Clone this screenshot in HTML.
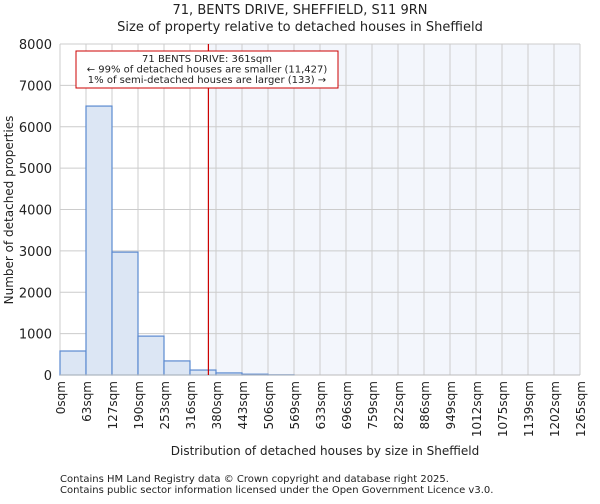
<!DOCTYPE html>
<html><head><meta charset="utf-8"><style>
body{margin:0;background:#fff;font-family:"DejaVu Sans","Liberation Sans",sans-serif;}
svg text{font-family:"DejaVu Sans","Liberation Sans",sans-serif;fill:#222;}
</style></head><body>
<svg id="chart" width="600" height="500">
<text x="300" y="14" font-size="13" text-anchor="middle">71, BENTS DRIVE, SHEFFIELD, S11 9RN</text>
<text x="300" y="31" font-size="13" text-anchor="middle">Size of property relative to detached houses in Sheffield</text>
<g id="plot"></g>
<text x="325" y="455" font-size="12" text-anchor="middle">Distribution of detached houses by size in Sheffield</text>
<text transform="translate(13,210) rotate(-90)" font-size="12" text-anchor="middle">Number of detached properties</text>
<text x="60" y="482" font-size="10">Contains HM Land Registry data © Crown copyright and database right 2025.</text>
<text x="60" y="493" font-size="10">Contains public sector information licensed under the Open Government Licence v3.0.</text>
</svg>
<script>
const binEdges=[0,63,127,190,253,316,380,443,506,569,633,696,759,822,886,949,1012,1075,1139,1202,1265];
const counts=[580,6500,2970,940,340,120,50,20,5,0,0,0,0,0,0,0,0,0,0,0];
const yTicks=[0,1000,2000,3000,4000,5000,6000,7000,8000];
const marker=361;
const L=60,R=580,T=44,B=375,XMAX=1265,YMAX=8000;
const xs=v=>L+v/XMAX*(R-L), ys=v=>B-v/YMAX*(B-T);
const g=document.getElementById('plot');const NS='http://www.w3.org/2000/svg';
function mk(t,a){const e=document.createElementNS(NS,t);for(const k in a)e.setAttribute(k,a[k]);g.appendChild(e);return e;}
let e=mk('rect',{x:xs(marker),y:T,width:R-xs(marker),height:B-T,fill:'#f3f6fc'});


yTicks.forEach(v=>{let l=mk('line',{x1:L,x2:R,y1:ys(v),y2:ys(v),stroke:'#ccc'});


let t=mk('text',{x:L-8,y:ys(v)+5,'font-size':13,'text-anchor':'end'});t.textContent=v;

});
binEdges.forEach((v,i)=>{let l=mk('line',{x1:xs(i*XMAX/20),x2:xs(i*XMAX/20),y1:T,y2:B,stroke:'#ccc'});


const x=xs(i*XMAX/20);
let t=mk('text',{transform:`translate(${x+5},${B+6}) rotate(-90)`,'font-size':12,'text-anchor':'end'});t.textContent=v+'sqm';

});
counts.forEach((c,i)=>{if(c<=0)return;const x0=xs(i*XMAX/20),x1=xs((i+1)*XMAX/20);
let r=mk('rect',{x:x0,y:ys(c),width:x1-x0,height:B-ys(c),fill:'#dce6f4',stroke:'#5b8ad0','stroke-width':1.2});

});
let ax=mk('line',{x1:L,x2:R,y1:B,y2:B,stroke:'#bbb'});


let ml=mk('line',{x1:xs(marker),x2:xs(marker),y1:T,y2:B,stroke:'#c00','stroke-width':1.2});


let box=mk('rect',{x:76,y:51,width:262,height:37,fill:'#fff',stroke:'#c00'});


['71 BENTS DRIVE: 361sqm','← 99% of detached houses are smaller (11,427)','1% of semi-detached houses are larger (133) →'].forEach((s,i)=>{
let t=mk('text',{x:207,y:62+i*10.5,'font-size':10,'text-anchor':'middle'});t.textContent=s;

});
</script>
</body></html>
